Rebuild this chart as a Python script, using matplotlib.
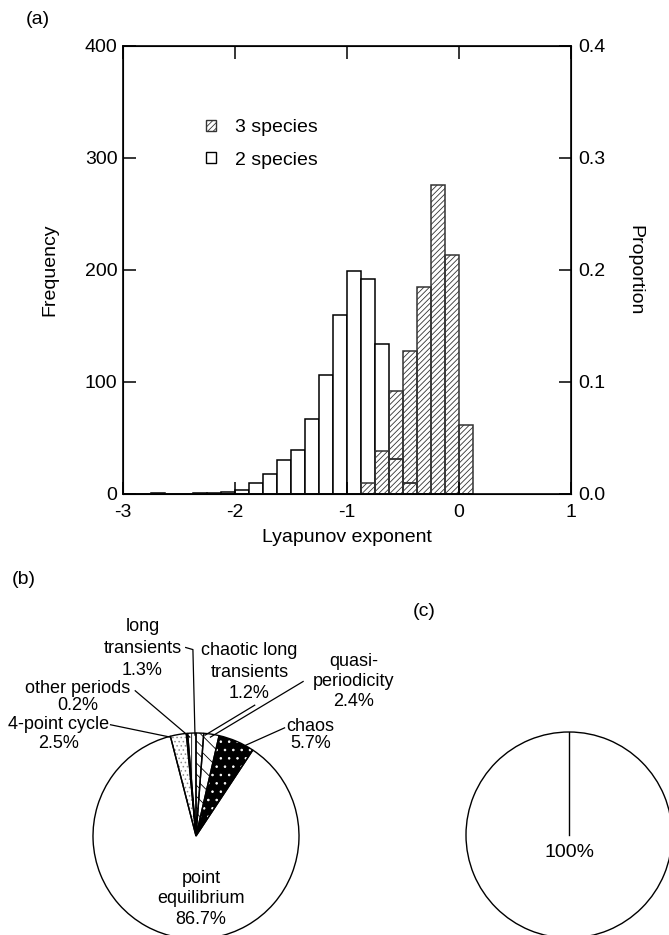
import numpy as np
import matplotlib
matplotlib.use("Agg")
import matplotlib.pyplot as plt
from matplotlib.patches import Patch

plt.rcParams["font.family"] = ["Liberation Sans", "DejaVu Sans"]
plt.rcParams["font.size"] = 14
plt.rcParams["axes.unicode_minus"] = False
plt.rcParams["hatch.linewidth"] = 0.6

# (a) histogram of Lyapunov exponents, bins of width 0.125 starting at -3
bin_width = 0.125
bin_start = -3.0
two_species = [0, 0, 1, 0, 0, 1, 1, 2, 4, 10, 18, 30, 39, 67, 106, 160,
               199, 192, 134, 31, 10, 0, 0, 0, 0]
three_species = [0, 0, 0, 0, 0, 0, 0, 0, 0, 0, 0, 0, 0, 0, 0, 0, 0,
                 10, 38, 92, 128, 185, 276, 213, 62]
n_runs = 1000

# (b) dynamics of the 3 species model (clockwise from the left edge)
pie_names = ["4-point cycle", "other periods", "long\ntransients",
             "chaotic long\ntransients", "quasi-\nperiodicity", "chaos",
             "point\nequilibrium"]
pie_pct = [2.5, 0.2, 1.3, 1.2, 2.4, 5.7, 86.7]
pie_face = ["white", "white", "white", "white", "white", "black", "white"]
pie_hatch = ["....", "|||", "|||", "\\\\\\", "\\\\", "..", None]
pie_hatch_col = ["0.55", "black", "black", "black", "black", "white", "white"]

# (c) 2 species model
pie_c_pct = [100.0]

W, H = 669, 935
fig = plt.figure(figsize=(W / 100, H / 100), dpi=100)


def px_axes(left, top, right, bottom):
    return fig.add_axes([left / W, 1 - bottom / H, (right - left) / W, (bottom - top) / H])


# ---------- (a)
ax = px_axes(123, 46, 571, 494)
left_edges = bin_start + bin_width * np.arange(len(two_species))
ax.bar(left_edges, two_species, width=bin_width, align="edge",
       facecolor="white", edgecolor="black", linewidth=1.1)
ax.bar(left_edges, three_species, width=bin_width, align="edge",
       facecolor="none", edgecolor="0.2", hatch="//////", linewidth=1.1)
ax.set_xlim(-3, 1)
ax.set_ylim(0, 400)
ax.set_xticks([-3, -2, -1, 0, 1])
ax.set_yticks([0, 100, 200, 300, 400])
ax.tick_params(direction="in", length=9, width=1.1, top=True, labelsize=14)
ax.tick_params(axis="x", pad=7)
ax.tick_params(axis="y", pad=4)
ax.set_xlabel("Lyapunov exponent", fontsize=14, va="center")
ax.xaxis.set_label_coords(0.5, (494 - 538) / 448)
ax.set_ylabel("Frequency", fontsize=14, va="center", ha="center")
ax.yaxis.set_label_coords((50 - 123) / 448, 0.5)
for s in ax.spines.values():
    s.set_linewidth(1.2)

ax2 = ax.twinx()
ax2.set_ylim(0, 400 / n_runs)
ax2.set_yticks([0.0, 0.1, 0.2, 0.3, 0.4])
ax2.set_yticklabels(["0.0", "0.1", "0.2", "0.3", "0.4"])
ax2.tick_params(direction="in", length=9, width=1.1, pad=5, labelsize=14)
ax2.set_ylabel("Proportion", fontsize=14, rotation=-90, va="center", ha="center")
ax2.yaxis.set_label_coords((635 - 123) / 448, 0.5)

handles = [Patch(facecolor="white", edgecolor="0.2", hatch="//////", label="3 species"),
           Patch(facecolor="white", edgecolor="black", label="2 species")]
ax.legend(handles=handles, loc="center left",
          bbox_to_anchor=((206 - 123) / 448, (494 - 144) / 448),
          frameon=False, borderpad=0, borderaxespad=0,
          handlelength=0.5, handleheight=0.5,
          handletextpad=1.0, labelspacing=0.8, fontsize=14)

fig.text(38 / W, 1 - 20 / H, "(a)", ha="center", va="center", fontsize=14)
fig.text(24 / W, 1 - 580 / H, "(b)", ha="center", va="center", fontsize=14)
fig.text(424 / W, 1 - 611 / H, "(c)", ha="center", va="center", fontsize=14)

# ---------- (b)
axb = px_axes(93, 733, 299, 939)
start = 90 + 360 * sum(pie_pct[:3]) / 100
wedges, _ = axb.pie(pie_pct, startangle=start, counterclock=False,
                    colors=pie_face, wedgeprops=dict(linewidth=0))
for w, h, hc in zip(wedges, pie_hatch, pie_hatch_col):
    w.set_hatch(h)
    w.set_edgecolor(hc)
axb.pie(pie_pct, startangle=start, counterclock=False, colors=["none"] * len(pie_pct),
        wedgeprops=dict(edgecolor="black", linewidth=1.0))
axb.set_xlim(-1, 1)
axb.set_ylim(-1, 1)
axb.set_aspect("equal")

label_xy = [(-1.33, 0.99), (-1.15, 1.35), (-0.52, 1.82), (0.52, 1.59),
            (1.53, 1.50), (1.11, 0.98), (0.05, -0.61)]
label_spacing = [1.1, 1.05, 1.35, 1.35, 1.25, 1.05, 1.25]
leaders = [[(-0.83, 1.08), (-0.25, 0.96)],
           [(-0.59, 1.41), (-0.06, 0.96)],
           [(-0.10, 1.83), (-0.03, 1.81), (-0.01, 0.98)],
           [(0.57, 1.27), (0.09, 0.98)],
           [(1.04, 1.50), (0.14, 0.96)],
           [(0.86, 1.05), (0.48, 0.88)],
           None]
for name, p, xy, ls, ld in zip(pie_names, pie_pct, label_xy, label_spacing, leaders):
    axb.text(xy[0], xy[1], f"{name}\n{p:.1f}%", ha="center", va="center",
             fontsize=13, linespacing=ls)
    if ld is not None:
        xs, ys = zip(*ld)
        axb.plot(xs, ys, color="black", linewidth=0.9, clip_on=False)

# ---------- (c)
axc = px_axes(466, 732, 672, 938)
axc.pie(pie_c_pct, startangle=90, counterclock=False, colors=["white"],
        wedgeprops=dict(edgecolor="black", linewidth=1.0))
axc.plot([0, 0], [0, 1], color="black", linewidth=1.0)
axc.set_xlim(-1, 1)
axc.set_ylim(-1, 1)
axc.set_aspect("equal")
axc.text(0, -0.17, f"{pie_c_pct[0]:.0f}%", ha="center", va="center", fontsize=14)

fig.savefig("out.png", dpi=100)
